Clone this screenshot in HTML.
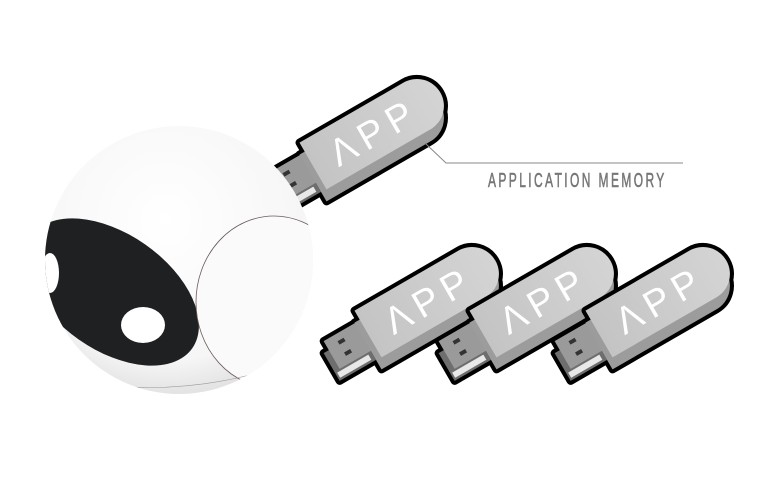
<!DOCTYPE html>
<html><head><meta charset="utf-8"><style>
html,body{margin:0;padding:0;background:#fff;width:768px;height:480px;overflow:hidden}
</style></head><body>
<svg width="768" height="480" viewBox="0 0 768 480" xmlns="http://www.w3.org/2000/svg">
<defs>
<linearGradient id="face" x1="0" y1="0" x2="1" y2="0">
<stop offset="0" stop-color="#c4c4c4"/><stop offset="1" stop-color="#d4d4d4"/></linearGradient>
<radialGradient id="ball" cx="0.45" cy="0.35" r="0.7">
<stop offset="0" stop-color="#ffffff"/><stop offset="0.75" stop-color="#f6f6f6"/><stop offset="1" stop-color="#dcdcdc"/></radialGradient>
<clipPath id="sph"><circle cx="179" cy="260" r="134"/></clipPath>
<g id="stick">
  <g stroke="#000" stroke-width="8" stroke-linejoin="round" fill="#000">
    <path d="M0,-27 H120 A27,27 0 0 1 120,27 H0 Z"/>
    <path d="M-6,-16.6 H114 A27,27 0 0 1 114,37.4 H-6 Z"/>
    <rect x="-42" y="-16" width="42" height="32"/>
    <rect x="-48" y="-5.6" width="42" height="32"/>
  </g>
  <rect x="-48" y="-5.6" width="42" height="32" fill="#6e6e6e"/>
  <rect x="-42" y="-16" width="42" height="32" fill="#9a9a9a"/>
  <rect x="-30" y="-9" width="7" height="4" fill="#333"/>
  <rect x="-30" y="4" width="7" height="4" fill="#333"/>
  <rect x="-46" y="18" width="36" height="6" fill="#e8e8e8"/>
  <path d="M-6,-16.6 H114 A27,27 0 0 1 114,37.4 H-6 Z" fill="#9c9c9c"/>
  <path d="M0,-27 H120 A27,27 0 0 1 120,27 H0 Z" fill="url(#face)"/>
  <text x="70" y="14" text-anchor="middle" font-family="Liberation Sans, sans-serif" font-size="38" fill="#fff" letter-spacing="7">ΛPP</text>
</g>
</defs>

<use href="#stick" transform="translate(313,166) rotate(-30)"/>

<circle cx="179" cy="260" r="134" fill="url(#ball)"/>
<g clip-path="url(#sph)">
  <ellipse cx="112" cy="292" rx="98" ry="58" transform="rotate(35 112 292)" fill="#1f2021"/>
  <ellipse cx="143" cy="325" rx="22" ry="18" fill="#fff"/>
  <ellipse cx="50" cy="273" rx="9" ry="20" fill="#fff"/>
  <ellipse cx="274" cy="302" rx="78" ry="86" fill="#fafafa" stroke="#6b5a5a" stroke-width="0.8"/>
  <path d="M50,375 Q150,400 250,375" fill="none" stroke="#999" stroke-width="0.6"/>
</g>

<polyline points="425,143 446,163 683,163" fill="none" stroke="#888" stroke-width="1"/>
<text x="488" y="187" font-family="Liberation Sans, sans-serif" font-size="20" fill="#777" stroke="#777" stroke-width="0.6" letter-spacing="4" transform="translate(488 0) scale(0.6 1) translate(-488 0)">APPLICATION MEMORY</text>

<use href="#stick" transform="translate(368,334) rotate(-30)"/>
<use href="#stick" transform="translate(483,334) rotate(-30)"/>
<use href="#stick" transform="translate(599,334) rotate(-30)"/>
</svg>
</body></html>
